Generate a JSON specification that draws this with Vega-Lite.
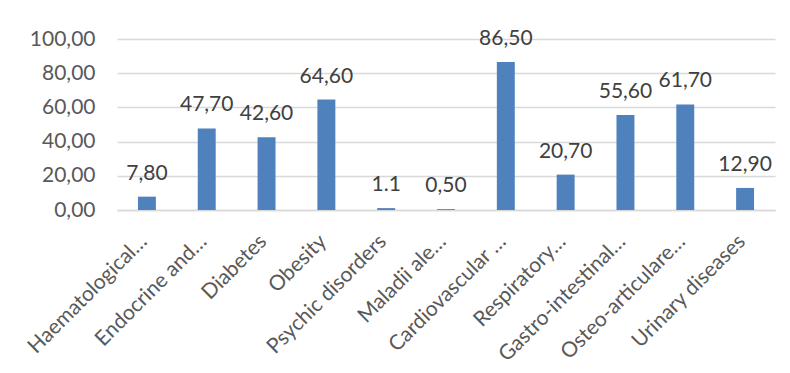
{
  "$schema": "https://vega.github.io/schema/vega-lite/v6.json",
  "width": 658,
  "height": 171,
  "autosize": {"type": "none"},
  "padding": {"left": 117, "top": 39, "right": 15, "bottom": 163},
  "background": "white",
  "config": {
    "locale": {
      "number": {"decimal": ",", "thousands": ".", "grouping": [3], "currency": ["", " €"]}
    },
    "font": "Lato",
    "view": {"stroke": null},
    "axis": {
      "labelFont": "Lato",
      "labelFontSize": 21,
      "labelColor": "#595959",
      "gridColor": "#d9d9d9",
      "gridWidth": 1.5,
      "domainColor": "#d9d9d9",
      "domainWidth": 1.5,
      "ticks": false,
      "title": null
    }
  },
  "data": {
    "values": [
      {"category": "Haematological…", "value": 7.8, "label": "7,80"},
      {"category": "Endocrine and…", "value": 47.7, "label": "47,70"},
      {"category": "Diabetes", "value": 42.6, "label": "42,60"},
      {"category": "Obesity", "value": 64.6, "label": "64,60"},
      {"category": "Psychic disorders", "value": 1.1, "label": "1.1"},
      {"category": "Maladii ale…", "value": 0.5, "label": "0,50"},
      {"category": "Cardiovascular …", "value": 86.5, "label": "86,50"},
      {"category": "Respiratory…", "value": 20.7, "label": "20,70"},
      {"category": "Gastro-intestinal…", "value": 55.6, "label": "55,60"},
      {"category": "Osteo-articulare…", "value": 61.7, "label": "61,70"},
      {"category": "Urinary diseases", "value": 12.9, "label": "12,90"}
    ]
  },
  "encoding": {
    "x": {
      "field": "category",
      "type": "nominal",
      "sort": null,
      "scale": {"paddingInner": 0.7, "paddingOuter": 0.35},
      "axis": {
        "labelAngle": -45,
        "labelAlign": "right",
        "labelBaseline": "middle",
        "labelPadding": 28,
        "labelOffset": -3,
        "labelLimit": 300,
        "grid": false
      }
    },
    "y": {
      "field": "value",
      "type": "quantitative",
      "scale": {"domain": [0, 100]},
      "axis": {
        "values": [0, 20, 40, 60, 80, 100],
        "format": ".2f",
        "domain": false,
        "labelPadding": 22
      }
    }
  },
  "layer": [
    {"mark": {"type": "bar", "color": "#4f81bd"}},
    {
      "mark": {
        "type": "text",
        "baseline": "alphabetic",
        "dy": -17,
        "fontSize": 21,
        "color": "#404040",
        "font": "Lato"
      },
      "encoding": {"text": {"field": "label"}}
    }
  ]
}
